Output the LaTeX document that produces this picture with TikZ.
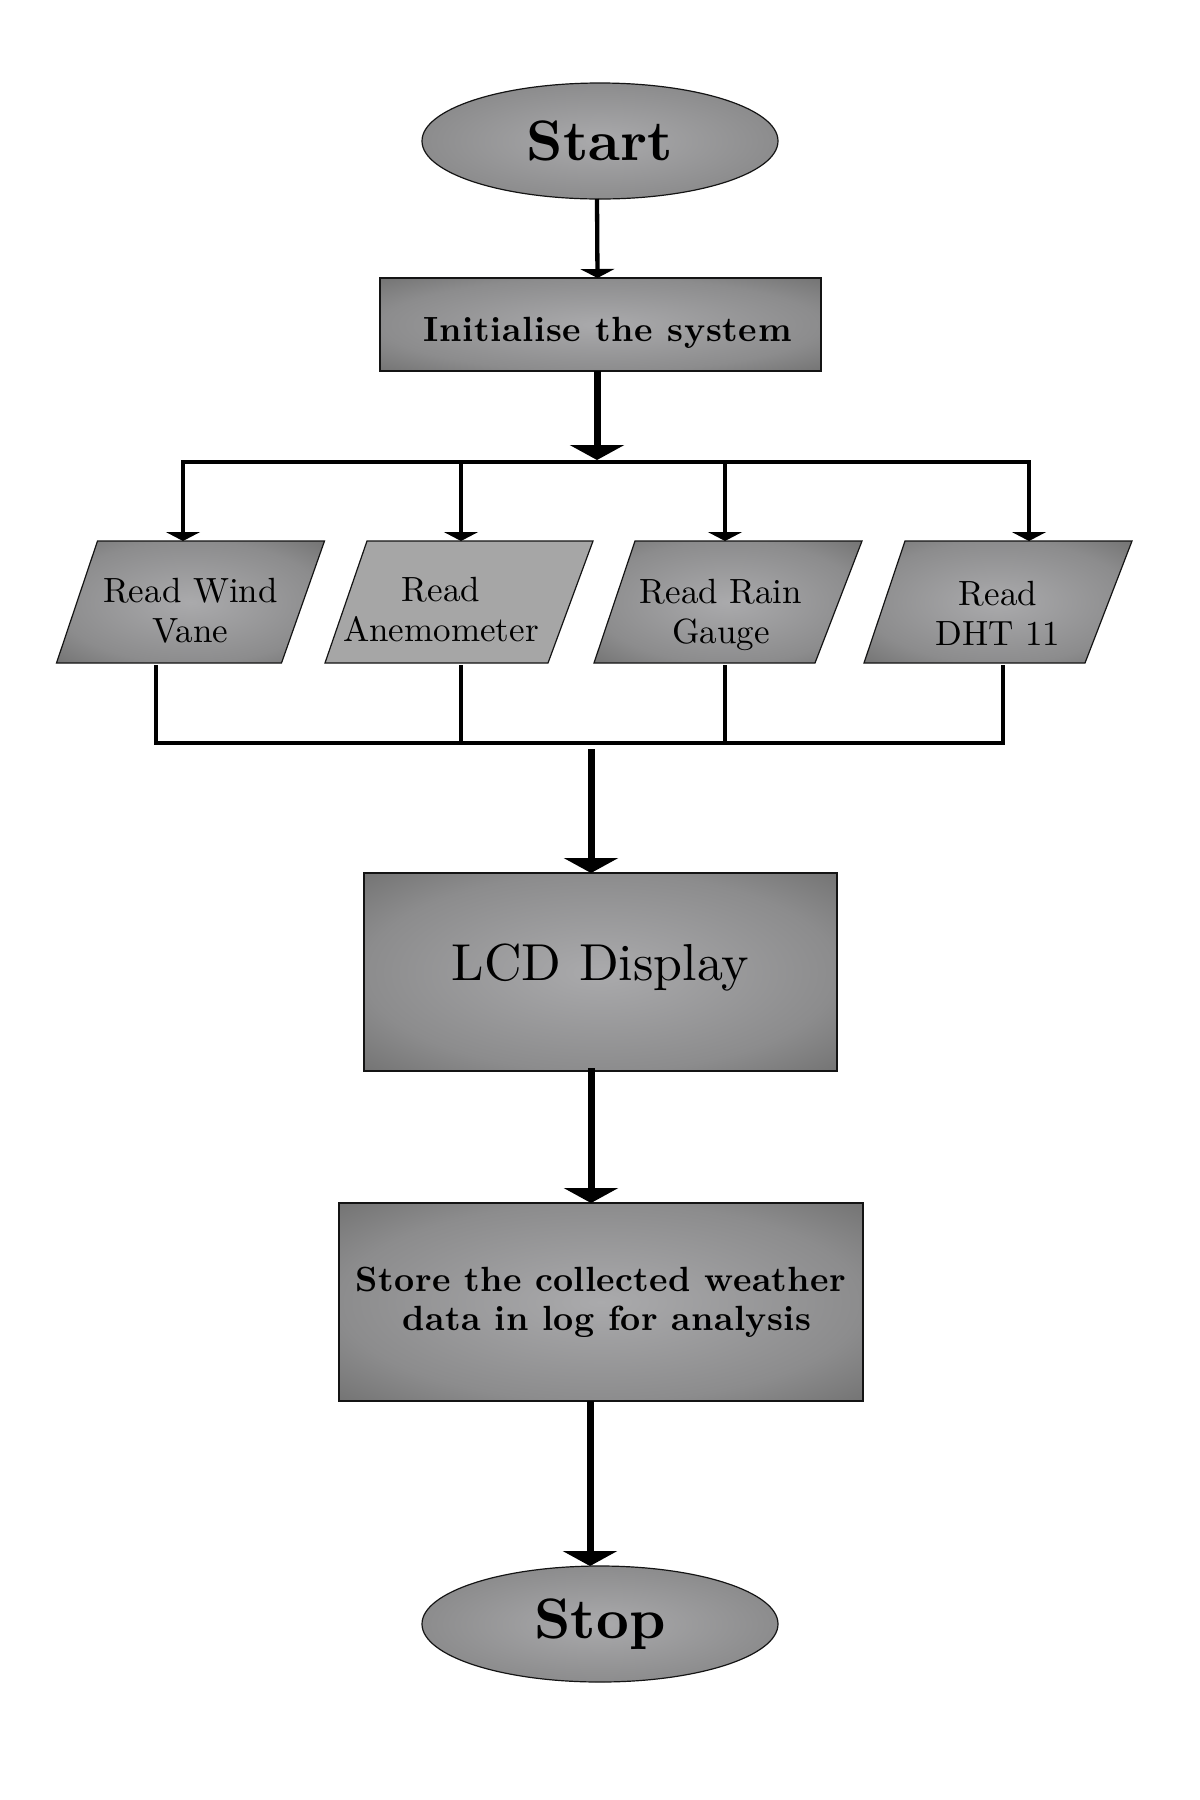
\documentclass[tikz,border=0pt]{standalone}
\usepackage{fontspec}
\setmainfont{lmroman10-regular.otf}[BoldFont=lmroman10-bold.otf]
\usetikzlibrary{shapes.geometric,arrows.meta}
\definecolor{shA}{RGB}{170,170,172}
\definecolor{shB}{RGB}{140,140,141}
\definecolor{shC}{RGB}{116,116,116}
\definecolor{flatg}{RGB}{166,166,166}
\definecolor{edge}{RGB}{20,20,20}
\pgfdeclareradialshading{boxsh}{\pgfpoint{0bp}{0bp}}{color(0bp)=(shA); color(25bp)=(shB); color(35.36bp)=(shC); color(50bp)=(shC)}
\tikzset{
  shp/.style={draw=edge, line width=1.2pt, inner sep=0pt, outer sep=0pt},
  shaded/.style={shade, shading=boxsh},
  term/.style={shp, shaded, ellipse, minimum width=356pt, minimum height=116pt, font=\fontsize{57}{60}\selectfont\bfseries},
  procbox/.style={shp, shaded, rectangle},
  paraframe/.style={rectangle, inner sep=0pt, outer sep=0pt, minimum width=268pt, minimum height=122pt},
  ptext/.style={align=center, inner sep=0pt, font=\fontsize{35}{40}\selectfont},
  thinarr/.style={line width=4.3pt, -{Triangle[width=34pt,length=9pt]}},
  thickarr/.style={line width=7pt, -{Triangle[width=54pt,length=15pt]}},
  wire/.style={line width=4pt},
}
\begin{document}
\begin{tikzpicture}[x=1pt,y=-1pt]
\fill[white] (0,0) rectangle (1200,1800);
\useasboundingbox (0,0) rectangle (1200,1800);

% terminals and process boxes
\node[term] (start) at (600,141) {Start};
\node[procbox, minimum width=441pt, minimum height=93pt, text height=40pt, text depth=7pt,
      font=\fontsize{35}{40}\selectfont\bfseries\addfontfeature{LetterSpace=2}] (init) at (600.5,324.5) {\hspace*{14pt}Initialise the system};
\node[procbox, minimum width=473pt, minimum height=198pt, text height=36pt, text depth=20pt,
      font=\fontsize{52}{60}\selectfont] (lcd) at (600.5,972) {LCD Display};
\node[procbox, minimum width=524pt, minimum height=198pt, align=center,
      font=\fontsize{35}{39}\selectfont\bfseries\addfontfeature{LetterSpace=1}] (store) at (601,1302) {Store the collected weather\\\hspace*{12pt}data in log for analysis};
\node[term] (stop) at (600,1624) {Stop};

% input parallelograms (frames carry the names, outlines drawn from their anchors)
\node[paraframe] (p1) at (190.5,602) {};
\node[paraframe] (p2) at (459,602) {};
\node[paraframe] (p3) at (728,602) {};
\node[paraframe] (p4) at (998,602) {};
\path[shp, shaded] (p1.south west) -- ([xshift=41pt]p1.north west) -- (p1.north east) -- ([xshift=-43pt]p1.south east) -- cycle;
\path[shp, fill=flatg] (p2.south west) -- ([xshift=42pt]p2.north west) -- (p2.north east) -- ([xshift=-45pt]p2.south east) -- cycle;
\path[shp, shaded] (p3.south west) -- ([xshift=41pt]p3.north west) -- (p3.north east) -- ([xshift=-47pt]p3.south east) -- cycle;
\path[shp, shaded] (p4.south west) -- ([xshift=41pt]p4.north west) -- (p4.north east) -- ([xshift=-47pt]p4.south east) -- cycle;
\node[ptext] (t1) at (p1) {\rule{0pt}{42pt}Read Wind\\Vane};
\node[ptext] (t2) at (p2) {\rule{0pt}{40pt}Read\hspace*{36pt}\\Anemometer\hspace*{36pt}};
\node[ptext] (t3) at (p3) {\rule{0pt}{50.8pt}Read Rain\hspace*{14pt}\\Gauge\hspace*{14pt}};
\node[ptext] (t4) at (p4) {\rule{0pt}{46pt}Read\\DHT 11};

% junction coordinates
\coordinate (bj) at (597,462);
\coordinate (b1) at (183,462);
\coordinate (b2) at (461,462);
\coordinate (b3) at (725,462);
\coordinate (b4) at (1029,462);
\coordinate (c1) at (156,743);
\coordinate (c2) at (461,743);
\coordinate (c3) at (725,743);
\coordinate (c4) at (1003,743);
\coordinate (cj) at (591,749);

% connectors
\draw[thinarr] ([xshift=-3pt]start.south) -- ([xshift=-3pt]init.north);
\draw[thickarr] ([xshift=-3.5pt]init.south) -- ([yshift=2pt]bj);
\draw[wire, line cap=rect] (b1) -- (b4);
\draw[thinarr] (b1) -- (p1.north -| b1);
\draw[thinarr] (b2) -- (p2.north -| b2);
\draw[thinarr] (b3) -- (p3.north -| b3);
\draw[thinarr] (b4) -- (p4.north -| b4);
\draw[wire] ([yshift=-2pt]p1.south -| c1) -- (c1);
\draw[wire] ([yshift=-2pt]p2.south -| c2) -- (c2);
\draw[wire] ([yshift=-2pt]p3.south -| c3) -- (c3);
\draw[wire] ([yshift=-2pt]p4.south -| c4) -- (c4);
\draw[wire, line cap=rect] (c1) -- (c4);
\draw[thickarr] (cj) -- (lcd.north -| cj);
\draw[thickarr] ([yshift=3pt]lcd.south -| cj) -- (store.north -| cj);
\draw[thickarr] ([xshift=-11pt]store.south) -- ([xshift=-10pt]stop.north);
\end{tikzpicture}
\end{document}
